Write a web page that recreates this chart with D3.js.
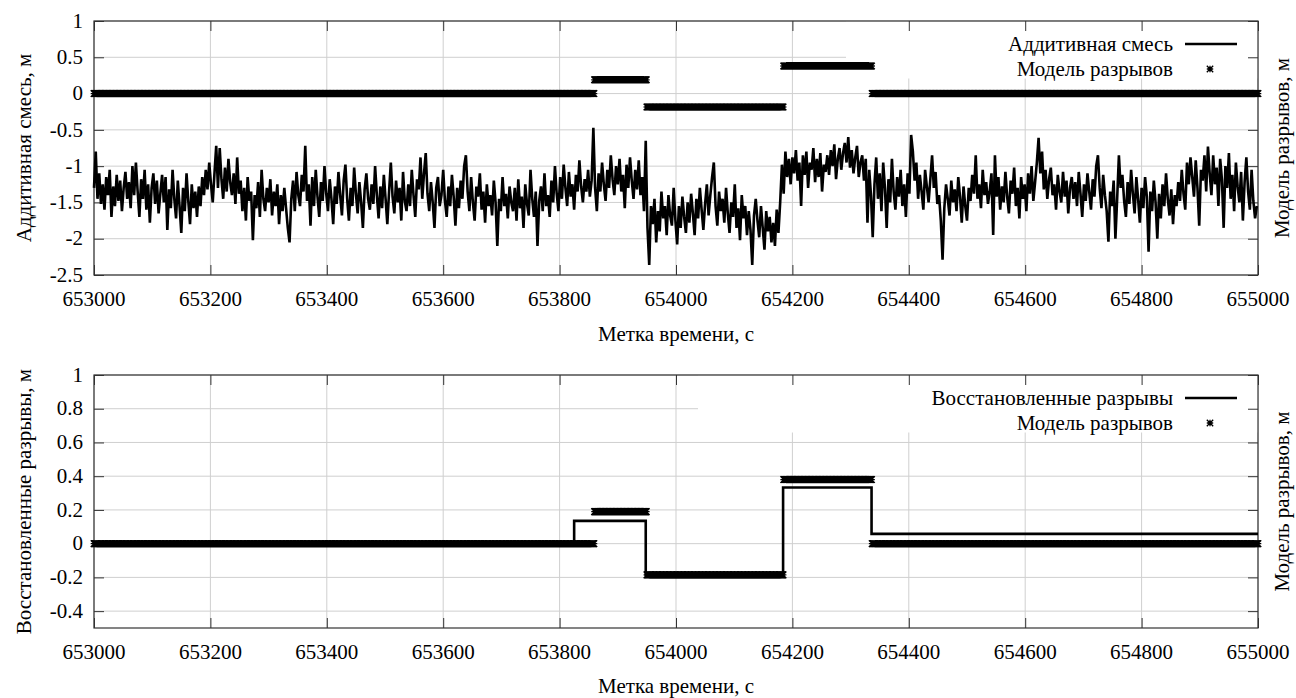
<!DOCTYPE html>
<html>
<head>
<meta charset="utf-8">
<script src="https://cdn.jsdelivr.net/npm/d3@7"></script>
</head>
<body style="margin:0">
<script>
var width = 1296;
var height = 698;
var fontList = "'Liberation Serif', 'Tinos', 'FreeSerif', 'Times New Roman', 'Noto Serif', serif";

// Axis ticks
var xTicks = [653000, 653200, 653400, 653600, 653800, 654000, 654200, 654400, 654600, 654800, 655000];
var topYTicks = [1, 0.5, 0, -0.5, -1, -1.5, -2, -2.5];
var botYTicks = [1, 0.8, 0.6, 0.4, 0.2, 0, -0.2, -0.4];

// Additive mixture, one sample every 3 s from 653000
var mixStart = 653000;
var mixStep = 3;
var mixValues = [
  -1.30,-0.80,-1.45,-1.10,-1.52,-1.25,-1.60,-1.15,-1.40,-1.05,-1.70,-1.28,-1.55,-1.12,-1.48,-1.20,-1.62,-1.30,-1.08,-1.45,
  -1.22,-1.58,-1.00,-1.40,-0.95,-1.35,-1.70,-1.18,-1.45,-1.05,-1.60,-1.25,-1.78,-1.30,-1.10,-1.52,-1.20,-1.65,-1.38,-1.12,
  -1.50,-1.15,-1.88,-1.32,-1.58,-1.05,-1.45,-1.72,-1.20,-1.55,-1.92,-1.30,-1.62,-1.10,-1.48,-1.80,-1.25,-1.58,-1.35,-1.70,
  -1.28,-1.55,-1.15,-1.40,-1.05,-1.32,-0.95,-1.25,-1.50,-1.10,-0.72,-1.30,-0.75,-1.18,-1.45,-1.02,-1.35,-0.90,-1.22,-1.40,
  -1.10,-1.52,-0.88,-1.38,-1.20,-1.62,-1.30,-1.75,-1.15,-1.48,-1.35,-2.02,-1.40,-1.58,-1.22,-1.70,-1.05,-1.45,-1.62,-1.30,
  -1.50,-1.18,-1.68,-1.35,-1.55,-1.25,-1.80,-1.40,-1.62,-1.30,-1.58,-1.85,-2.05,-1.45,-1.20,-1.62,-1.08,-1.40,-1.55,-1.12,
  -1.35,-0.72,-1.48,-1.25,-1.82,-1.15,-1.55,-1.05,-1.42,-1.70,-1.22,-1.48,-1.00,-1.38,-1.62,-1.18,-1.45,-1.80,-1.28,-1.52,
  -1.08,-1.40,-1.68,-1.20,-0.98,-1.45,-1.75,-1.30,-1.55,-1.02,-1.38,-1.65,-1.22,-1.50,-1.85,-1.32,-1.10,-1.45,-1.60,-1.25,
  -1.52,-1.00,-1.40,-1.72,-1.28,-1.58,-1.12,-1.45,-1.80,-1.35,-0.95,-1.42,-1.65,-1.20,-1.50,-1.30,-1.75,-1.08,-1.48,-1.62,
  -1.25,-1.55,-1.05,-1.40,-1.70,-1.18,-1.32,-0.88,-1.45,-1.10,-0.82,-1.38,-1.62,-1.22,-1.50,-1.85,-1.30,-1.15,-1.55,-1.40,
  -1.05,-1.48,-1.70,-1.28,-1.55,-1.12,-1.42,-1.82,-1.30,-1.58,-1.20,-1.45,-1.00,-0.85,-1.35,-1.62,-1.15,-1.50,-1.75,-1.28,
  -1.42,-1.10,-1.60,-1.35,-1.78,-1.25,-1.55,-1.40,-1.68,-1.20,-1.50,-2.10,-1.45,-1.62,-1.15,-1.55,-1.38,-1.72,-1.28,-1.50,
  -1.62,-1.30,-1.75,-1.18,-1.58,-1.42,-1.85,-1.25,-1.52,-1.68,-1.05,-1.45,-1.70,-1.35,-2.10,-1.48,-1.28,-1.62,-1.10,-1.55,
  -1.40,-1.70,-1.20,-1.50,-1.00,-1.38,-1.62,-1.15,-1.45,-0.98,-1.30,-1.55,-1.08,-1.42,-1.25,-1.60,-1.12,-1.35,-0.92,-1.28,
  -1.50,-1.18,-1.35,-1.05,-1.42,-1.20,-0.47,-1.30,-1.62,-1.10,-1.35,-0.95,-1.25,-1.48,-1.05,-1.30,-0.85,-1.18,-1.40,-1.00,
  -1.25,-0.90,-1.35,-1.12,-1.58,-0.98,-1.30,-0.88,-1.20,-1.45,-1.05,-1.32,-0.92,-1.40,-1.15,-1.62,-0.65,-1.85,-2.36,-1.55,
  -1.80,-1.45,-2.05,-1.62,-1.90,-1.35,-1.72,-1.55,-1.95,-1.40,-1.68,-1.82,-1.30,-1.75,-2.08,-1.55,-1.85,-1.42,-1.70,-1.92,
  -1.50,-1.78,-1.38,-1.65,-1.95,-1.45,-1.72,-1.30,-1.60,-1.88,-1.52,-1.25,-1.68,-1.40,-1.15,-0.95,-1.55,-1.82,-1.35,-1.62,
  -1.45,-1.78,-1.30,-1.65,-1.92,-1.50,-1.70,-1.25,-1.85,-1.58,-2.02,-1.40,-1.72,-1.55,-1.95,-1.62,-1.88,-2.36,-1.68,-1.45,
  -1.75,-1.98,-1.55,-1.85,-2.15,-1.62,-1.90,-1.70,-2.05,-1.78,-2.10,-1.60,-1.92,-1.50,-0.98,-1.38,-0.80,-1.15,-0.90,-1.25,
  -0.88,-1.10,-0.78,-1.20,-0.95,-1.55,-0.85,-1.12,-0.80,-1.30,-0.95,-1.05,-0.75,-1.22,-0.90,-1.15,-0.82,-1.35,-0.98,-1.08,
  -0.85,-1.12,-0.78,-1.00,-0.70,-1.18,-0.90,-0.75,-1.05,-0.82,-0.68,-0.95,-0.60,-1.02,-0.78,-1.10,-0.88,-0.72,-1.15,-0.95,
  -0.85,-1.20,-0.90,-1.78,-1.05,-1.40,-1.98,-1.25,-0.88,-1.45,-1.10,-1.62,-0.95,-1.30,-1.85,-1.18,-1.50,-0.90,-1.35,-1.60,
  -1.15,-1.42,-1.05,-1.55,-1.25,-1.70,-1.10,-1.38,-0.57,-0.80,-1.20,-0.95,-1.45,-1.12,-1.35,-1.60,-1.05,-1.28,-1.50,-1.18,
  -0.85,-1.30,-1.08,-1.52,-1.40,-1.75,-2.29,-1.58,-1.25,-1.45,-1.68,-1.20,-1.50,-1.32,-1.62,-1.15,-1.42,-1.78,-1.28,-1.55,
  -1.75,-1.30,-1.48,-1.12,-1.38,-0.85,-1.45,-1.25,-1.58,-1.05,-1.40,-1.22,-1.52,-1.35,-1.10,-1.95,-0.85,-1.42,-1.15,-1.60,
  -1.28,-1.50,-1.08,-1.42,-1.65,-1.20,-1.38,-1.02,-1.55,-1.30,-1.72,-1.15,-1.45,-1.25,-1.62,-1.10,-1.38,-1.00,-1.48,-1.22,
  -0.95,-0.61,-1.10,-0.80,-1.32,-1.05,-1.45,-1.18,-1.02,-1.40,-1.25,-1.60,-1.12,-1.35,-1.50,-1.08,-1.42,-1.20,-1.65,-1.30,
  -1.15,-1.45,-1.22,-1.55,-1.08,-1.38,-1.70,-1.25,-1.48,-1.10,-1.35,-1.60,-1.18,-1.42,-1.00,-0.85,-1.30,-1.58,-1.12,-1.40,
  -1.62,-2.04,-1.35,-1.55,-1.20,-2.00,-1.45,-0.85,-1.30,-1.12,-1.48,-1.70,-1.22,-1.52,-1.05,-1.38,-1.65,-1.15,-1.45,-1.78,
  -1.30,-1.58,-1.15,-1.42,-2.18,-1.35,-1.62,-1.20,-1.50,-2.00,-1.38,-1.72,-1.25,-1.55,-1.10,-1.45,-1.68,-1.32,-1.80,-1.40,
  -1.55,-1.22,-1.48,-1.05,-1.38,-1.60,-0.95,-1.25,-0.88,-1.15,-1.42,-0.92,-1.30,-1.82,-1.05,-1.20,-0.85,-1.35,-0.73,-1.10,
  -1.40,-0.85,-1.25,-1.02,-1.55,-0.90,-1.18,-1.85,-1.00,-1.30,-0.82,-1.45,-1.12,-1.62,-0.95,-1.28,-1.50,-1.08,-1.75,-1.22,
  -0.88,-1.35,-1.60,-1.05,-1.48,-1.72,-1.55
];

// Break model: each level holds from its start time up to the next start (one point per second)
var modelStarts = [653000, 653860, 653950, 654185, 654337];
var modelLevels = [0, 0.19, -0.185, 0.38, 0];
var modelEnd = 655000;

// Recovered breaks (step line)
var recStarts = [653000, 653825, 653948, 654184, 654336];
var recLevels = [0, 0.135, -0.185, 0.333, 0.058];
var recEnd = 655000;

// Texts
var xTitle = "Метка времени, с";
var topYTitle = "Аддитивная смесь, м";
var botYTitle = "Восстановленные разрывы, м";
var rightTitle = "Модель разрывов, м";
var topLegend = ["Аддитивная смесь", "Модель разрывов"];
var botLegend = ["Восстановленные разрывы", "Модель разрывов"];

var svg = d3.select("body").append("svg")
    .attr("width", width)
    .attr("height", height);

var left = 94, right = 1258;
var x = d3.scaleLinear().domain([653000, 655000]).range([left, right]);

// all texts are collected here and drawn at the end in one join
var labels = [];

function modelPoints() {
    var pts = [];
    for (var i = 0; i < modelStarts.length; i++) {
        var end = (i + 1 < modelStarts.length) ? modelStarts[i + 1] : modelEnd + 1;
        for (var t = modelStarts[i]; t < end; t++) pts.push([t, modelLevels[i]]);
    }
    return pts;
}

function stepPoints() {
    var pts = [];
    for (var i = 0; i < recStarts.length; i++) {
        var end = (i + 1 < recStarts.length) ? recStarts[i + 1] : recEnd;
        pts.push([recStarts[i], recLevels[i]]);
        pts.push([end, recLevels[i]]);
    }
    return pts;
}

// gnuplot-like "*" point: x plus +
function starPath(cx, cy, r) {
    return "M" + (cx - r) + "," + (cy - r) + "L" + (cx + r) + "," + (cy + r) +
           "M" + (cx - r) + "," + (cy + r) + "L" + (cx + r) + "," + (cy - r) +
           "M" + (cx - r) + "," + cy + "H" + (cx + r) +
           "M" + cx + "," + (cy - r) + "V" + (cy + r);
}

function drawPanel(top, bottom, yDomain, yTicks, legendLeft, legendTexts, yTitle, titleY, drawData) {
    var y = d3.scaleLinear().domain(yDomain).range([bottom, top]);
    var g = svg.append("g");

    // grid
    g.selectAll(".gx").data(xTicks).enter().append("line")
        .attr("x1", d => x(d)).attr("x2", d => x(d))
        .attr("y1", top).attr("y2", bottom)
        .attr("stroke", "#cfcfcf").attr("stroke-width", 1);
    g.selectAll(".gy").data(yTicks).enter().append("line")
        .attr("x1", left).attr("x2", right)
        .attr("y1", d => y(d)).attr("y2", d => y(d))
        .attr("stroke", "#cfcfcf").attr("stroke-width", 1);

    // key box hides the grid behind it
    g.append("rect")
        .attr("x", legendLeft).attr("y", top + 0.5)
        .attr("width", right - legendLeft).attr("height", 57)
        .attr("fill", "#fff");

    // inward tick marks on all four sides
    var axes = [
        g.append("g").attr("transform", "translate(" + left + ",0)").call(d3.axisLeft(y).tickValues(yTicks).tickSize(-10).tickFormat("")),
        g.append("g").attr("transform", "translate(0," + bottom + ")").call(d3.axisBottom(x).tickValues(xTicks).tickSize(-10).tickFormat("")),
        g.append("g").attr("transform", "translate(" + right + ",0)").call(d3.axisRight(y).tickValues(yTicks).tickSize(-10).tickFormat("")),
        g.append("g").attr("transform", "translate(0," + top + ")").call(d3.axisTop(x).tickValues(xTicks).tickSize(-10).tickFormat(""))
    ];
    axes.forEach(function(a) {
        a.attr("font-family", null).attr("font-size", null);
        a.select(".domain").remove();
        a.selectAll(".tick line").attr("stroke", "#333");
        a.selectAll("text").remove();
    });

    // tick labels
    yTicks.forEach(function(v) {
        labels.push({x: left - 11, y: y(v), dy: "0.32em", anchor: "end", text: String(v)});
    });
    xTicks.forEach(function(v) {
        labels.push({x: x(v), y: bottom + 31, dy: "0", anchor: "middle", text: String(v)});
    });

    // border
    g.append("rect")
        .attr("x", left).attr("y", top)
        .attr("width", right - left).attr("height", bottom - top)
        .attr("fill", "none").attr("stroke", "#333").attr("stroke-width", 1.2);

    drawData(g, y);

    // model points
    var mp = modelPoints().map(p => starPath(x(p[0]), y(p[1]), 3.3)).join("");
    g.append("path").attr("d", mp).attr("stroke", "#000").attr("stroke-width", 1.3).attr("fill", "none");

    // legend
    var l1 = top + 23, l2 = top + 48;
    labels.push({x: 1173, y: l1, dy: "0.32em", anchor: "end", text: legendTexts[0]});
    labels.push({x: 1173, y: l2, dy: "0.32em", anchor: "end", text: legendTexts[1]});
    g.append("line").attr("x1", 1185).attr("x2", 1237).attr("y1", l1).attr("y2", l1)
        .attr("stroke", "#000").attr("stroke-width", 2.6);
    g.append("path").attr("d", starPath(1210, l2, 3.2))
        .attr("stroke", "#000").attr("stroke-width", 1.3).attr("fill", "none");

    // axis titles
    var mid = (top + bottom) / 2;
    labels.push({x: 24, y: mid, dy: "0.32em", anchor: "middle", rotate: true, text: yTitle});
    labels.push({x: 1282, y: mid, dy: "0.32em", anchor: "middle", rotate: true, text: rightTitle});
    labels.push({x: (left + right) / 2, y: titleY, dy: "0", anchor: "middle", text: xTitle});
}

// Top panel: additive mixture
drawPanel(21, 275, [-2.5, 1], topYTicks, 846, topLegend, topYTitle, 341, function(g, y) {
    var line = d3.line()
        .x((d, i) => x(mixStart + i * mixStep))
        .y(d => y(d));
    g.append("path").datum(mixValues).attr("d", line)
        .attr("fill", "none").attr("stroke", "#000").attr("stroke-width", 2.6);
});

// Bottom panel: recovered breaks
drawPanel(375, 628, [-0.5, 1], botYTicks, 698, botLegend, botYTitle, 693, function(g, y) {
    var line = d3.line().x(d => x(d[0])).y(d => y(d[1]));
    g.append("path").datum(stepPoints()).attr("d", line)
        .attr("fill", "none").attr("stroke", "#000").attr("stroke-width", 2.6);
});

// Texts, drawn straight into the svg root
svg.selectAll("text.lbl").data(labels).enter().append("text")
    .attr("class", "lbl")
    .attr("x", d => d.rotate ? 0 : d.x)
    .attr("y", d => d.rotate ? 0 : d.y)
    .attr("transform", d => d.rotate ? "translate(" + d.x + "," + d.y + ") rotate(-90)" : null)
    .attr("dy", d => d.dy)
    .attr("text-anchor", d => d.anchor)
    .attr("font-size", 21)
    .attr("font-family", fontList)
    .attr("fill", "#000")
    .style("font-family", fontList)
    .text(d => d.text);
</script>
</body>
</html>
